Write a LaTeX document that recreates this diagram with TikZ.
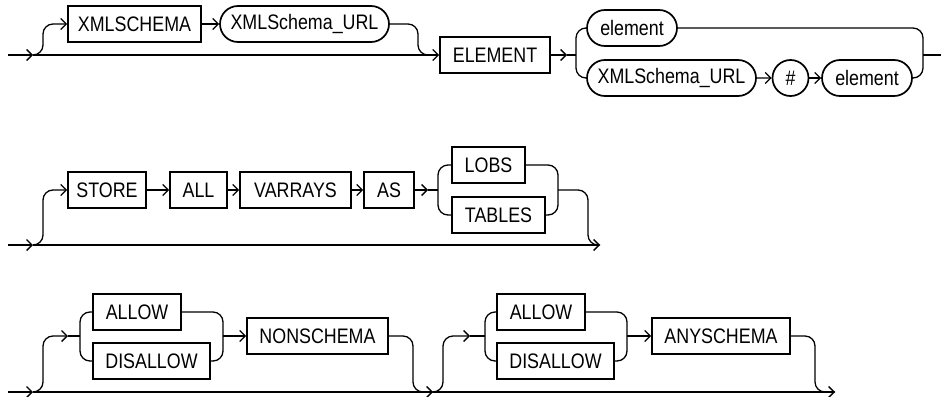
\documentclass[tikz,border=0pt]{standalone}
\usepackage{fontspec}
\setmainfont{Liberation Sans}
\newfontfamily\railfont{Liberation Sans}[FakeStretch=0.85]
\usepackage{tikz}
\usetikzlibrary{arrows.meta,shapes.misc}

\begin{document}
\begin{tikzpicture}[
        x=1pt, y=-1pt,
        kw/.style={draw, line width=1.7pt, minimum height=36pt, inner sep=0pt, font=\railfont\fontsize{21}{24}\selectfont},
        var/.style={kw, rounded rectangle},
        lit/.style={kw, circle, minimum size=36pt},
        arr/.style={-{Straight Barb[length=5.5pt,width=11pt]}},
        every path/.style={line width=1.3pt},
        rc/.style={rounded corners=10pt}
    ]
        \useasboundingbox (0,0) rectangle (941,396);

        % first row
        \node[kw, minimum width=133pt] (xml) at (134.5, 24) {XMLSCHEMA};
        \node[var, minimum width=169pt] (url1) at (304.5, 24) {XMLSchema\_URL};
        \node[kw, minimum width=110pt] (el) at (495, 55) {ELEMENT};
        \node[var, minimum width=90pt] (elm1) at (632, 28) {element};
        \node[var, minimum width=169pt] (url2) at (671.5, 78) {XMLSchema\_URL};
        \node[lit] (hash) at (790.5, 78) {\#};
        \node[var, minimum width=90pt] (elm2) at (867, 78) {element};

        \coordinate (s1) at (8, 55);
        \coordinate (j1) at (33, 55);
        \coordinate (m1) at (428, 55);
        \coordinate (j2) at (567, 55);
        \coordinate (e1) at (941, 55);

        \draw[arr] (s1) -- (j1);
        \draw[arr] (j1) -- (el.west);
        \draw[arr, rc] (j1) -- ++(10,0) |- (xml.west);
        \draw[arr] (xml) -- (url1);
        \draw[rc] (url1.east) -| ([xshift=-10]m1) -- (m1);
        \draw[arr] (el) -- (j2);
        \draw (j2) -- ++(9,0);
        \draw[rc] (elm1.west) -| ([xshift=9]j2) |- (url2.west);
        \draw[arr] (url2) -- (hash);
        \draw[arr] (hash) -- (elm2);
        \draw[rc] (elm1.east) -| ([xshift=-18]e1) |- (elm2.east);
        \draw ([xshift=-18]e1) -- (e1);

        % second row
        \node[kw, minimum width=78pt] (store) at (107, 190) {STORE};
        \node[kw, minimum width=57pt] (all) at (198.5, 190) {ALL};
        \node[kw, minimum width=111pt] (varr) at (295.5, 190) {VARRAYS};
        \node[kw, minimum width=50pt] (as) at (389, 190) {AS};
        \node[kw, minimum width=73pt] (lobs) at (488.5, 165) {LOBS};
        \node[kw, minimum width=93pt] (tables) at (498.5, 215) {TABLES};

        \coordinate (s2) at (8, 245);
        \coordinate (j3) at (33, 245);
        \coordinate (j4) at (428, 190);
        \coordinate (k2) at (558, 190);
        \coordinate (e2) at (600, 245);

        \draw[arr] (s2) -- (j3);
        \draw[arr] (j3) -- (e2);
        \draw[arr, rc] (j3) -- ++(10,0) |- (store.west);
        \draw[arr] (store) -- (all);
        \draw[arr] (all) -- (varr);
        \draw[arr] (varr) -- (as);
        \draw[arr] (as) -- (j4);
        \draw (j4) -- ++(10,0);
        \draw[rc] (lobs.west) -| ([xshift=10]j4) |- (tables.west);
        \draw[rc] (lobs.east) -| (k2) |- (tables.east);
        \draw[rc] (k2) -| ([xshift=-12]e2) -- (e2);

        % third row
        \node[kw, minimum width=88pt] (allow1) at (137, 312) {ALLOW};
        \node[kw, minimum width=117pt] (dis1) at (151.5, 361) {DISALLOW};
        \node[kw, minimum width=141pt] (nons) at (317.5, 336) {NONSCHEMA};
        \node[kw, minimum width=88pt] (allow2) at (541, 312) {ALLOW};
        \node[kw, minimum width=117pt] (dis2) at (555.5, 361) {DISALLOW};
        \node[kw, minimum width=138pt] (anys) at (721, 336) {ANYSCHEMA};

        \coordinate (s3) at (8, 392);
        \coordinate (j5) at (33, 392);
        \coordinate (j6) at (68, 336);
        \coordinate (k3) at (223, 336);
        \coordinate (j7) at (433, 392);
        \coordinate (j8) at (470, 336);
        \coordinate (k4) at (627, 336);
        \coordinate (e3) at (835, 392);

        \draw[arr] (s3) -- (j5);
        \draw[arr] (j5) -- (j7);
        \draw[arr] (j7) -- (e3);
        \draw[arr, rc] (j5) -- ++(10,0) |- (j6);
        \draw (j6) -- ++(12,0);
        \draw[rc] (allow1.west) -| ([xshift=12]j6) |- (dis1.west);
        \draw[rc] (allow1.east) -| (k3) |- (dis1.east);
        \draw[arr] (k3) -- (nons);
        \draw[rc] (nons.east) -| ([xshift=-20]j7) -- (j7);
        \draw[arr, rc] (j7) -- ++(10,0) |- (j8);
        \draw (j8) -- ++(15,0);
        \draw[rc] (allow2.west) -| ([xshift=15]j8) |- (dis2.west);
        \draw[rc] (allow2.east) -| (k4) |- (dis2.east);
        \draw[arr] (k4) -- (anys);
        \draw[rc] (anys.east) -| ([xshift=-20]e3) -- (e3);
    \end{tikzpicture}
\end{document}
